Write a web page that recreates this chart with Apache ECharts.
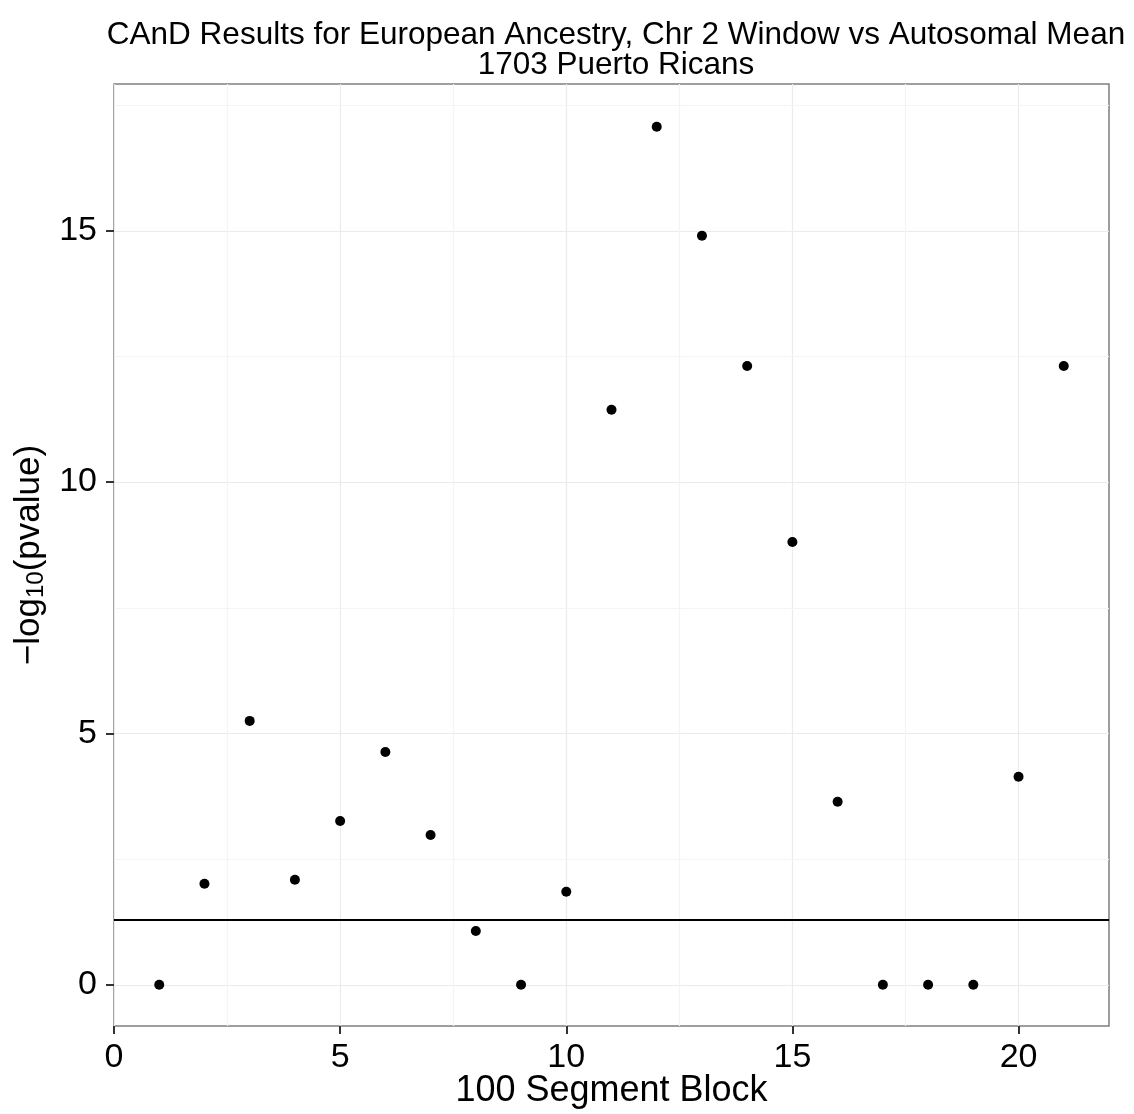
<!DOCTYPE html>
<html><head><meta charset="utf-8">
<script src="https://cdn.jsdelivr.net/npm/echarts@6/dist/echarts.min.js"></script>
<style>html,body{margin:0;padding:0;background:#fff}#c{width:1134px;height:1114px}</style>
</head><body><div id="c"></div>
<script>
const blocks = [1,2,3,4,5,6,7,8,9,10,11,12,13,14,15,16,17,18,19,20,21];
const negLogP = [0,2.01,5.25,2.09,3.26,4.63,2.98,1.07,0,1.85,11.44,17.07,14.90,12.31,8.81,3.64,0,0,0,4.14,12.31];
const threshold = 1.30;
const xTicks = [0,5,10,15,20];
const yTicks = [0,5,10,15];
const yMinorGrid = [2.5,7.5,12.5,17.5];
const titleText = 'CAnD Results for European Ancestry, Chr 2 Window vs Autosomal Mean\n1703 Puerto Ricans';

const chart = echarts.init(document.getElementById('c'), null, {renderer:'canvas'});
const font = 'Liberation Sans, Arial, Helvetica, sans-serif';
const minorData = yMinorGrid.map(v=>({yAxis:v,lineStyle:{color:'#f4f4f4',width:1.2,type:'solid'}}));
chart.setOption({
  animation:false,
  backgroundColor:'#ffffff',
  title:{text:titleText,left:611,textAlign:'center',top:15,
    textStyle:{fontFamily:font,fontSize:31.5,fontWeight:'normal',color:'#000',lineHeight:30}},
  grid:{left:114,top:84,width:995,height:942,show:true,borderColor:'#7f7f7f',borderWidth:1.5,
    backgroundColor:'#fff',containLabel:false,outerBoundsMode:'none'},
  xAxis:{type:'value',min:0,max:22,interval:5,
    name:'100 Segment Block',nameLocation:'middle',nameGap:47,nameMoveOverlap:false,
    nameTextStyle:{fontFamily:font,fontSize:36,color:'#000'},
    axisLine:{show:false,onZero:false},
    axisTick:{show:true,length:8,customValues:xTicks,lineStyle:{color:'#333',width:2}},
    axisLabel:{fontFamily:font,fontSize:34,color:'#000',margin:15,customValues:xTicks},
    splitLine:{show:true,lineStyle:{color:'#ebebeb',width:1.2}},
    minorTick:{show:false,splitNumber:2},
    minorSplitLine:{show:true,lineStyle:{color:'#f4f4f4',width:1.2}}
  },
  yAxis:{type:'value',min:-0.82,max:17.92,
    name:'{a|−log}{b|10}{a|(pvalue)}',nameLocation:'middle',nameGap:66,nameRotate:90,nameMoveOverlap:false,
    nameTextStyle:{rich:{
      a:{fontFamily:font,fontSize:35,color:'#000'},
      b:{fontFamily:font,fontSize:24,color:'#000',verticalAlign:'bottom',padding:[14,0,0,0]}}},
    axisLine:{show:false,onZero:false},
    axisTick:{show:true,length:8,customValues:yTicks,lineStyle:{color:'#333',width:2}},
    axisLabel:{fontFamily:font,fontSize:34,color:'#000',margin:17,customValues:yTicks},
    splitLine:{show:true,lineStyle:{color:'#ebebeb',width:1.2}},
    minorSplitLine:{show:false}
  },
  series:[{
    type:'scatter',
    data:blocks.map((b,i)=>[b,negLogP[i]]),
    symbolSize:10,
    z:5,
    itemStyle:{color:'#000',opacity:1},
    markLine:{silent:true,symbol:'none',label:{show:false},animation:false,
      lineStyle:{color:'#000',width:2,type:'solid'},
      data:[...minorData,{yAxis:threshold,lineStyle:{color:'#000',width:2,type:'solid'}}]}
  }]
});
</script></body></html>
